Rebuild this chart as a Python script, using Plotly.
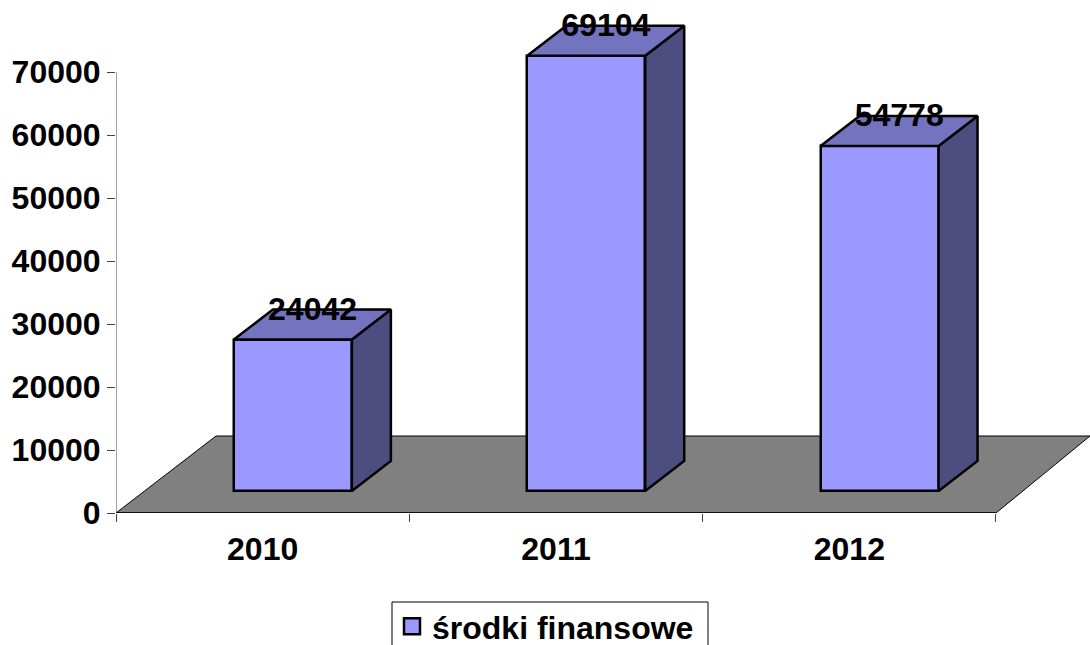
import plotly.graph_objects as go

years = ["2010", "2011", "2012"]
values = [24042, 69104, 54778]
y_ticks = [0, 10000, 20000, 30000, 40000, 50000, 60000, 70000]
series_name = "środki finansowe"

FRONT, TOP, SIDE, FLOOR = "#9999FF", "#7373BF", "#4D4D80", "#808080"
INK = "#000000"
FONT = dict(family="Liberation Sans, Arial, sans-serif", size=32, color="#000000", weight=700)

# plot geometry in pixels -> data scale
W, H = 1090, 665
L, R, T, B = 116, 0, 10, H - 513
px_per_cat = 293.33
px_per_val = 441 / 70000
xmax = (W - L - R) / px_per_cat
ymax = (513 - T) / px_per_val
dx = lambda px: px / px_per_cat
dy = lambda px: px / px_per_val
paper_x = lambda px: (px - L) / (W - L - R)
paper_y = lambda px: (513 - px) / (513 - T)

bar_width = dx(118)
centre = [i + 0.603 for i in range(3)]
lift = dy(22)
depth_x, depth_y = dx(39), dy(30)

fig = go.Figure()

fig.add_trace(go.Bar(
    x=centre, y=values, base=[lift] * 3, width=bar_width, showlegend=False,
    marker=dict(color=FRONT, line=dict(color=INK, width=2.5)), hoverinfo="skip"))

for c, v in zip(centre, values):
    x0, x1 = c - bar_width / 2, c + bar_width / 2
    top = v + lift
    fig.add_trace(go.Scatter(
        x=[x1, x1 + depth_x, x1 + depth_x, x1, x1],
        y=[lift, lift + depth_y, top + depth_y, top, lift],
        mode="lines", fill="toself", fillcolor=SIDE, line=dict(color=INK, width=2.5),
        showlegend=False, hoverinfo="skip"))
    fig.add_trace(go.Scatter(
        x=[x0, x1, x1 + depth_x, x0 + depth_x, x0],
        y=[top, top, top + depth_y, top + depth_y, top],
        mode="lines", fill="toself", fillcolor=TOP, line=dict(color=INK, width=2.5),
        showlegend=False, hoverinfo="skip"))

fig.add_trace(go.Scatter(
    x=[i + 0.67 for i in range(3)], y=[v + lift + dy(28) for v in values],
    mode="text", text=[str(v) for v in values], textposition="middle center",
    textfont=FONT, showlegend=False, hoverinfo="skip", cliponaxis=False))

# axis lines
fig.add_trace(go.Scatter(x=[0, 0], y=[0, 70000], mode="lines", line=dict(color="#808080", width=1.5),
                         showlegend=False, hoverinfo="skip", cliponaxis=False))
fig.add_trace(go.Scatter(x=[0, 3], y=[0, 0], mode="lines", line=dict(color=INK, width=1.5),
                         showlegend=False, hoverinfo="skip", cliponaxis=False))

# legend entry
fig.add_trace(go.Scatter(x=[None], y=[None], mode="markers", name=series_name,
                         marker=dict(symbol="square", size=16, color=FRONT, line=dict(color=INK, width=2.5))))

floor = [(0, 0), (dx(100), dy(77)), (xmax, dy(77)), (3, 0)]
fig.add_shape(type="path", layer="below", xref="x", yref="y",
              path="M" + " L".join(f"{a},{b}" for a, b in floor) + " Z",
              fillcolor=FLOOR, line=dict(color=INK, width=1))

# legend frame, which runs off the bottom of the window as in the reference
fig.add_shape(type="rect", layer="below", xref="paper", yref="paper",
              x0=paper_x(392), x1=paper_x(708), y0=paper_y(660), y1=paper_y(602),
              fillcolor="white", line=dict(color=INK, width=1))

fig.update_layout(
    width=W, height=H, margin=dict(l=L, r=R, t=T, b=B, autoexpand=False),
    paper_bgcolor="white", plot_bgcolor="white", bargap=0,
    showlegend=True, hovermode=False,
    legend=dict(x=paper_x(392), y=paper_y(599), xanchor="left", yanchor="top",
                font=FONT, bgcolor="rgba(0,0,0,0)", borderwidth=0, itemwidth=30),
    xaxis=dict(range=[0, xmax], showgrid=False, zeroline=False, showline=False,
               tickmode="array", tickvals=[0.5, 1.5, 2.5], ticktext=years, tickfont=FONT,
               ticks="outside", ticklen=8, tickcolor="rgba(0,0,0,0)",
               minor=dict(tickmode="array", tickvals=[0, 1, 2, 3], ticks="outside",
                          ticklen=8, tickcolor="#404040", tickwidth=1, showgrid=False)),
    yaxis=dict(range=[0, ymax], showgrid=False, zeroline=False, showline=False,
               tickmode="array", tickvals=y_ticks, tickfont=FONT,
               ticks="outside", ticklen=8, tickcolor="#404040", tickwidth=1, tickformat="d"),
)
fig.write_html("out.html", config=dict(displayModeBar=False),
               post_script="document.body.style.margin='0';document.documentElement.style.overflow='hidden';")
